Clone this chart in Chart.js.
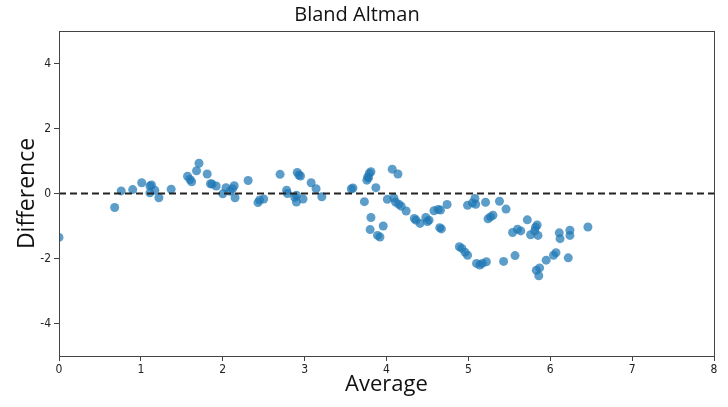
<!DOCTYPE html>
<html>
<head>
<meta charset="utf-8">
<script src="https://cdn.jsdelivr.net/npm/chart.js@4.4.1/dist/chart.umd.min.js"></script>
<style>
  html, body { margin: 0; padding: 0; background: #fff; }
  #wrap { width: 728px; height: 407px; }
</style>
</head>
<body>
<div id="wrap"><canvas id="baChart" width="728" height="407"></canvas></div>
<script>
// averages (x) and differences (y)
const averages = [
  0.0, 0.68, 0.76, 0.9, 1.01, 1.11, 1.13, 1.11, 1.17, 1.22, 1.37, 1.57, 1.6, 1.62, 1.68, 1.71,
  1.81, 1.85, 1.87, 1.92, 2.0, 2.04, 2.09, 2.12, 2.14, 2.15, 2.31, 2.43, 2.45, 2.5, 2.7, 2.78,
  2.79, 2.88, 2.9, 2.91, 2.93, 2.95, 2.98, 2.9, 3.08, 3.14, 3.21, 3.57, 3.59, 3.73, 3.76, 3.77,
  3.79, 3.81, 3.78, 3.8, 3.81, 3.87, 3.89, 3.92, 3.96, 4.01, 4.07, 4.09, 4.11, 4.14, 4.15, 4.18,
  4.24, 4.34, 4.36, 4.41, 4.48, 4.5, 4.52, 4.58, 4.63, 4.66, 4.65, 4.67, 4.74, 4.89, 4.92, 4.96,
  4.99, 4.99, 5.05, 5.08, 5.09, 5.1, 5.14, 5.17, 5.21, 5.22, 5.24, 5.27, 5.3, 5.38, 5.43, 5.46,
  5.54, 5.57, 5.6, 5.64, 5.72, 5.76, 5.81, 5.82, 5.84, 5.83, 5.85, 5.86, 5.87, 5.95, 6.04, 6.07,
  6.11, 6.12, 6.22, 6.24, 6.24, 6.46
];
const differences = [
  -1.35, -0.43, 0.08, 0.12, 0.33, 0.23, 0.26, 0.02, 0.1, -0.13, 0.13, 0.53, 0.43, 0.36, 0.7, 0.93,
  0.6, 0.3, 0.29, 0.23, -0.01, 0.18, 0.07, 0.15, 0.24, -0.13, 0.4, -0.28, -0.2, -0.17, 0.59, 0.1,
  0.0, -0.12, -0.26, 0.65, 0.57, 0.54, -0.17, -0.05, 0.33, 0.15, -0.1, 0.14, 0.17, -0.25, 0.41, 0.51,
  0.62, 0.67, 0.48, -1.11, -0.74, 0.18, -1.29, -1.34, -1.0, -0.18, 0.75, -0.14, -0.26, 0.6, -0.33, -0.39,
  -0.54, -0.77, -0.82, -0.92, -0.74, -0.86, -0.82, -0.53, -0.49, -0.51, -1.05, -1.09, -0.34, -1.64, -1.69, -1.81,
  -0.36, -1.9, -0.29, -0.15, -0.33, -2.15, -2.2, -2.15, -0.27, -2.1, -0.78, -0.72, -0.67, -0.24, -2.09, -0.48,
  -1.2, -1.91, -1.1, -1.15, -0.81, -1.27, -1.15, -1.04, -0.97, -2.36, -1.29, -2.53, -2.29, -2.05, -1.9, -1.82,
  -1.21, -1.39, -1.98, -1.13, -1.29, -1.03
];
const meanLine = [{ x: 0, y: 0 }, { x: 8, y: 0 }];
const yTicks = [-4, -2, 0, 2, 4];

const points = averages.map((a, i) => ({ x: a, y: differences[i] }));

const frame = {
  id: "frame",
  afterDraw(chart) {
    const { ctx, chartArea: a } = chart;
    ctx.save();
    ctx.strokeStyle = "#444";
    ctx.lineWidth = 1;
    ctx.strokeRect(Math.round(a.left) + 0.5, Math.round(a.top) + 0.5,
      Math.round(a.right - a.left), Math.round(a.bottom - a.top));
    ctx.restore();
  }
};

const tickFont = { family: "'DejaVu Sans Condensed', 'Liberation Sans Narrow', sans-serif", size: 12 };

new Chart(document.getElementById("baChart"), {
  type: "scatter",
  data: {
    datasets: [
      {
        label: "Points",
        data: points,
        backgroundColor: "rgba(31,119,180,0.72)",
        borderWidth: 0,
        pointRadius: 4.5,
        pointHoverRadius: 4.5,
        order: 2
      },
      {
        type: "line",
        label: "Mean",
        data: meanLine,
        borderColor: "#222",
        borderWidth: 2,
        borderDash: [7, 4],
        pointRadius: 0,
        fill: false,
        order: 1
      }
    ]
  },
  options: {
    responsive: false,
    animation: false,
    layout: { padding: { left: 0, right: 14, top: 0, bottom: 0 } },
    plugins: {
      legend: { display: false },
      tooltip: { enabled: false },
      title: {
        display: true,
        text: "Bland Altman",
        color: "#111",
        font: { family: "'Open Sans', sans-serif", size: 20, weight: "normal" },
        padding: { top: 3, bottom: 4 }
      }
    },
    scales: {
      x: {
        type: "linear",
        min: 0,
        max: 8,
        ticks: { stepSize: 1, color: "#222", font: tickFont, padding: 2 },
        grid: { drawOnChartArea: false, tickLength: 5, color: "#444" },
        border: { color: "#444" },
        title: {
          display: true,
          text: "Average",
          color: "#111",
          font: { family: "'Open Sans', sans-serif", size: 22 },
          padding: { top: 0, bottom: 9 }
        },
        afterFit(scale) { scale.height = 51; }
      },
      y: {
        type: "linear",
        min: -5,
        max: 5,
        afterBuildTicks(scale) { scale.ticks = yTicks.map(v => ({ value: v })); },
        ticks: { color: "#222", font: tickFont, padding: 3 },
        grid: { drawOnChartArea: false, tickLength: 5, color: "#444" },
        border: { color: "#444" },
        title: {
          display: true,
          text: "Difference",
          color: "#111",
          font: { family: "'Open Sans', sans-serif", size: 23 },
          padding: { top: 14, bottom: 0 }
        },
        afterFit(scale) { scale.width = 59; }
      }
    }
  },
  plugins: [frame]
});
</script>
</body>
</html>
